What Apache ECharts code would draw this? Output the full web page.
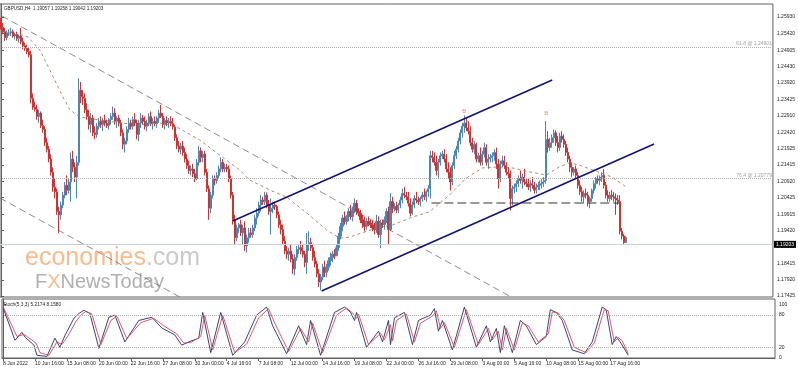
<!DOCTYPE html>
<html><head><meta charset="utf-8">
<script src="https://cdn.jsdelivr.net/npm/echarts@6/dist/echarts.min.js"></script>
<style>html,body{margin:0;padding:0;background:#fff}#c{width:798px;height:372px}</style>
</head><body><div id="c"></div>
<script>
// GBPUSD H4 bars: [open, high, low, close], one per 4h bar starting 8 Jun 2022 00:00
const bars = [
[1.2580,1.2590,1.2555,1.2562],[1.2562,1.2575,1.2540,1.2548],[1.2548,1.2560,1.2520,1.2530],[1.2530,1.2552,1.2522,1.2545],[1.2545,1.2555,1.2535,1.2545],[1.2545,1.2560,1.2535,1.2548],
[1.2548,1.2555,1.2530,1.2535],[1.2535,1.2545,1.2525,1.2540],[1.2540,1.2548,1.2520,1.2528],[1.2528,1.2540,1.2515,1.2535],[1.2535,1.2560,1.2510,1.2518],[1.2518,1.2530,1.2495,1.2505],
[1.2505,1.2515,1.2490,1.2498],[1.2498,1.2508,1.2480,1.2488],[1.2488,1.2500,1.2470,1.2478],[1.2478,1.2490,1.2330,1.2345],[1.2345,1.2360,1.2310,1.2318],[1.2318,1.2335,1.2305,1.2312],
[1.2312,1.2325,1.2280,1.2290],[1.2290,1.2310,1.2270,1.2300],[1.2300,1.2305,1.2255,1.2262],[1.2262,1.2280,1.2240,1.2250],[1.2250,1.2260,1.2200,1.2210],[1.2210,1.2225,1.2180,1.2190],
[1.2190,1.2200,1.2150,1.2160],[1.2160,1.2175,1.2110,1.2120],[1.2120,1.2135,1.2060,1.2075],[1.2075,1.2100,1.2040,1.2060],[1.2060,1.2070,1.1990,1.2000],[1.2000,1.2015,1.1934,1.1990],
[1.1990,1.2030,1.1975,1.2020],[1.2020,1.2060,1.2010,1.2050],[1.2050,1.2090,1.2040,1.2080],[1.2080,1.2110,1.2050,1.2065],[1.2065,1.2100,1.2055,1.2090],[1.2090,1.2180,1.2030,1.2160],
[1.2160,1.2185,1.2120,1.2135],[1.2135,1.2150,1.2090,1.2105],[1.2105,1.2170,1.2040,1.2150],[1.2150,1.2406,1.2140,1.2370],[1.2370,1.2395,1.2330,1.2350],[1.2350,1.2370,1.2325,1.2345],
[1.2345,1.2360,1.2300,1.2310],[1.2310,1.2330,1.2280,1.2290],[1.2290,1.2310,1.2250,1.2265],[1.2265,1.2300,1.2240,1.2285],[1.2285,1.2295,1.2230,1.2240],[1.2240,1.2260,1.2220,1.2235],
[1.2235,1.2270,1.2225,1.2260],[1.2260,1.2285,1.2250,1.2275],[1.2275,1.2290,1.2255,1.2265],[1.2265,1.2285,1.2245,1.2278],[1.2278,1.2295,1.2260,1.2270],[1.2270,1.2280,1.2255,1.2262],
[1.2262,1.2285,1.2250,1.2280],[1.2280,1.2300,1.2265,1.2290],[1.2290,1.2320,1.2280,1.2300],[1.2300,1.2315,1.2265,1.2275],[1.2275,1.2290,1.2255,1.2285],[1.2285,1.2295,1.2260,1.2270],
[1.2270,1.2280,1.2230,1.2240],[1.2240,1.2250,1.2190,1.2205],[1.2205,1.2225,1.2180,1.2215],[1.2215,1.2260,1.2205,1.2250],[1.2250,1.2285,1.2240,1.2270],[1.2270,1.2280,1.2250,1.2260],
[1.2260,1.2290,1.2250,1.2280],[1.2280,1.2300,1.2260,1.2270],[1.2270,1.2280,1.2220,1.2235],[1.2235,1.2280,1.2215,1.2270],[1.2270,1.2300,1.2255,1.2285],[1.2285,1.2295,1.2265,1.2275],
[1.2275,1.2290,1.2250,1.2260],[1.2260,1.2280,1.2245,1.2270],[1.2270,1.2300,1.2260,1.2290],[1.2290,1.2305,1.2260,1.2268],[1.2268,1.2285,1.2250,1.2275],[1.2275,1.2290,1.2260,1.2268],
[1.2268,1.2290,1.2255,1.2285],[1.2285,1.2310,1.2270,1.2300],[1.2300,1.2325,1.2285,1.2290],[1.2290,1.2300,1.2255,1.2265],[1.2265,1.2285,1.2250,1.2278],[1.2278,1.2290,1.2260,1.2270],
[1.2270,1.2285,1.2255,1.2275],[1.2275,1.2290,1.2260,1.2268],[1.2268,1.2285,1.2250,1.2258],[1.2258,1.2265,1.2215,1.2225],[1.2225,1.2235,1.2190,1.2200],[1.2200,1.2215,1.2180,1.2190],
[1.2190,1.2210,1.2175,1.2200],[1.2200,1.2215,1.2170,1.2180],[1.2180,1.2195,1.2150,1.2160],[1.2160,1.2175,1.2130,1.2140],[1.2140,1.2155,1.2115,1.2125],[1.2125,1.2140,1.2110,1.2130],
[1.2130,1.2145,1.2105,1.2115],[1.2115,1.2130,1.2090,1.2100],[1.2100,1.2160,1.2095,1.2150],[1.2150,1.2200,1.2140,1.2185],[1.2185,1.2195,1.2150,1.2165],[1.2165,1.2185,1.2150,1.2175],
[1.2175,1.2185,1.2110,1.2120],[1.2120,1.2130,1.2060,1.2070],[1.2070,1.2080,1.1975,1.2010],[1.2010,1.2060,1.1995,1.2050],[1.2050,1.2110,1.2040,1.2100],[1.2100,1.2110,1.2080,1.2095],
[1.2095,1.2120,1.2085,1.2110],[1.2110,1.2140,1.2100,1.2130],[1.2130,1.2165,1.2120,1.2150],[1.2150,1.2160,1.2120,1.2130],[1.2130,1.2145,1.2120,1.2135],[1.2135,1.2145,1.2120,1.2130],
[1.2130,1.2140,1.2090,1.2100],[1.2100,1.2110,1.2040,1.2050],[1.2050,1.2060,1.1960,1.1975],[1.1975,1.1990,1.1900,1.1920],[1.1920,1.1960,1.1910,1.1950],[1.1950,1.1965,1.1935,1.1960],
[1.1960,1.1975,1.1925,1.1935],[1.1935,1.1960,1.1900,1.1950],[1.1950,1.1970,1.1880,1.1895],[1.1895,1.1930,1.1875,1.1920],[1.1920,1.1950,1.1905,1.1935],[1.1935,1.1950,1.1920,1.1930],
[1.1930,1.1960,1.1920,1.1950],[1.1950,1.1990,1.1940,1.1980],[1.1980,1.2010,1.1960,1.1995],[1.1995,1.2030,1.1985,1.2020],[1.2020,1.2050,1.2000,1.2035],[1.2035,1.2045,1.2020,1.2030],
[1.2030,1.2060,1.2020,1.2050],[1.2050,1.2058,1.2010,1.2020],[1.2020,1.2035,1.1990,1.2000],[1.2000,1.2040,1.1930,1.2010],[1.2010,1.2030,1.1995,1.2020],[1.2020,1.2030,1.2005,1.2015],
[1.2015,1.2020,1.1980,1.1990],[1.1990,1.2000,1.1950,1.1960],[1.1960,1.1975,1.1930,1.1945],[1.1945,1.1960,1.1900,1.1910],[1.1910,1.1925,1.1870,1.1880],[1.1880,1.1895,1.1855,1.1870],
[1.1870,1.1890,1.1850,1.1880],[1.1880,1.1900,1.1845,1.1855],[1.1855,1.1870,1.1810,1.1825],[1.1825,1.1870,1.1806,1.1860],[1.1860,1.1895,1.1850,1.1885],[1.1885,1.1900,1.1870,1.1890],
[1.1890,1.1910,1.1870,1.1880],[1.1880,1.1900,1.1860,1.1870],[1.1870,1.1880,1.1830,1.1845],[1.1845,1.1935,1.1810,1.1900],[1.1900,1.1940,1.1880,1.1905],[1.1905,1.1920,1.1880,1.1890],
[1.1890,1.1900,1.1850,1.1860],[1.1860,1.1880,1.1830,1.1840],[1.1840,1.1850,1.1800,1.1810],[1.1810,1.1825,1.1770,1.1785],[1.1785,1.1810,1.1760,1.1800],[1.1800,1.1840,1.1790,1.1830],
[1.1830,1.1850,1.1800,1.1815],[1.1815,1.1840,1.1800,1.1830],[1.1830,1.1860,1.1820,1.1850],[1.1850,1.1875,1.1835,1.1860],[1.1860,1.1880,1.1845,1.1870],[1.1870,1.1885,1.1855,1.1865],
[1.1865,1.1900,1.1865,1.1890],[1.1890,1.1935,1.1880,1.1925],[1.1925,1.1965,1.1915,1.1955],[1.1955,1.1990,1.1940,1.1980],[1.1980,1.2000,1.1960,1.1970],[1.1970,1.1990,1.1960,1.1985],
[1.1985,1.2010,1.1970,1.2000],[1.2000,1.2020,1.1975,1.1985],[1.1985,1.2015,1.1970,1.2005],[1.2005,1.2040,1.1995,1.2025],[1.2025,1.2035,1.1990,1.2000],[1.2000,1.2010,1.1985,1.1995],
[1.1995,1.2005,1.1965,1.1975],[1.1975,1.1990,1.1950,1.1965],[1.1965,1.1985,1.1940,1.1955],[1.1955,1.1980,1.1945,1.1970],[1.1970,1.1985,1.1955,1.1965],[1.1965,1.1975,1.1950,1.1960],
[1.1960,1.1975,1.1940,1.1950],[1.1950,1.1965,1.1930,1.1945],[1.1945,1.1990,1.1935,1.1970],[1.1970,1.1985,1.1920,1.1930],[1.1930,1.1975,1.1888,1.1965],[1.1965,1.1975,1.1950,1.1960],
[1.1960,1.1985,1.1945,1.1975],[1.1975,1.2010,1.1965,1.2000],[1.2000,1.2015,1.1900,1.1945],[1.1945,1.2056,1.1940,1.2030],[1.2030,1.2045,1.1995,1.2010],[1.2010,1.2025,1.2000,1.2015],
[1.2015,1.2030,1.1995,1.2005],[1.2005,1.2025,1.1995,1.2020],[1.2020,1.2045,1.2010,1.2035],[1.2035,1.2070,1.2025,1.2055],[1.2055,1.2075,1.2040,1.2050],[1.2050,1.2060,1.2035,1.2045],
[1.2045,1.2060,1.2015,1.2025],[1.2025,1.2040,1.1985,1.1995],[1.1995,1.2030,1.1990,1.2020],[1.2020,1.2050,1.2010,1.2040],[1.2040,1.2060,1.2025,1.2035],[1.2035,1.2045,1.2020,1.2030],
[1.2030,1.2045,1.2015,1.2040],[1.2040,1.2060,1.2030,1.2050],[1.2050,1.2070,1.2035,1.2045],[1.2045,1.2065,1.2030,1.2060],[1.2060,1.2080,1.2045,1.2070],[1.2070,1.2185,1.2040,1.2170],
[1.2170,1.2185,1.2150,1.2165],[1.2165,1.2180,1.2140,1.2150],[1.2150,1.2170,1.2110,1.2125],[1.2125,1.2160,1.2100,1.2150],[1.2150,1.2180,1.2140,1.2170],[1.2170,1.2185,1.2160,1.2175],
[1.2175,1.2190,1.2150,1.2160],[1.2160,1.2175,1.2120,1.2130],[1.2130,1.2150,1.2100,1.2120],[1.2120,1.2135,1.2064,1.2090],[1.2090,1.2150,1.2080,1.2140],[1.2140,1.2185,1.2130,1.2170],
[1.2170,1.2200,1.2160,1.2190],[1.2190,1.2225,1.2180,1.2215],[1.2215,1.2250,1.2205,1.2240],[1.2240,1.2270,1.2225,1.2260],[1.2260,1.2293,1.2240,1.2270],[1.2270,1.2285,1.2245,1.2255],
[1.2255,1.2275,1.2235,1.2245],[1.2245,1.2260,1.2200,1.2210],[1.2210,1.2225,1.2180,1.2190],[1.2190,1.2215,1.2175,1.2205],[1.2205,1.2210,1.2150,1.2160],[1.2160,1.2180,1.2150,1.2170],
[1.2170,1.2195,1.2140,1.2150],[1.2150,1.2185,1.2140,1.2175],[1.2175,1.2210,1.2165,1.2195],[1.2195,1.2205,1.2140,1.2150],[1.2150,1.2175,1.2130,1.2160],[1.2160,1.2175,1.2150,1.2165],
[1.2165,1.2180,1.2150,1.2170],[1.2170,1.2190,1.2155,1.2180],[1.2180,1.2195,1.2130,1.2145],[1.2145,1.2160,1.2070,1.2100],[1.2100,1.2155,1.2090,1.2145],[1.2145,1.2170,1.2135,1.2155],
[1.2155,1.2170,1.2130,1.2140],[1.2140,1.2150,1.2110,1.2120],[1.2120,1.2135,1.2100,1.2115],[1.2115,1.2125,1.2003,1.2040],[1.2040,1.2080,1.2020,1.2070],[1.2070,1.2085,1.2055,1.2075],
[1.2075,1.2095,1.2060,1.2085],[1.2085,1.2110,1.2075,1.2100],[1.2100,1.2125,1.2085,1.2095],[1.2095,1.2115,1.2070,1.2105],[1.2105,1.2130,1.2080,1.2090],[1.2090,1.2100,1.2075,1.2085],
[1.2085,1.2100,1.2065,1.2075],[1.2075,1.2095,1.2060,1.2085],[1.2085,1.2105,1.2070,1.2080],[1.2080,1.2090,1.2055,1.2065],[1.2065,1.2085,1.2055,1.2075],[1.2075,1.2090,1.2065,1.2080],
[1.2080,1.2095,1.2065,1.2085],[1.2085,1.2100,1.2070,1.2090],[1.2090,1.2105,1.2075,1.2095],[1.2095,1.2276,1.2085,1.2220],[1.2220,1.2245,1.2180,1.2195],[1.2195,1.2225,1.2185,1.2210],
[1.2210,1.2235,1.2195,1.2225],[1.2225,1.2250,1.2210,1.2240],[1.2240,1.2248,1.2200,1.2210],[1.2210,1.2230,1.2180,1.2195],[1.2195,1.2240,1.2185,1.2230],[1.2230,1.2245,1.2210,1.2220],
[1.2220,1.2235,1.2195,1.2205],[1.2205,1.2215,1.2170,1.2180],[1.2180,1.2195,1.2150,1.2160],[1.2160,1.2170,1.2120,1.2135],[1.2135,1.2150,1.2105,1.2120],[1.2120,1.2135,1.2110,1.2130],
[1.2130,1.2140,1.2100,1.2110],[1.2110,1.2120,1.2070,1.2080],[1.2080,1.2095,1.2050,1.2060],[1.2060,1.2075,1.2030,1.2045],[1.2045,1.2065,1.2025,1.2055],[1.2055,1.2070,1.2040,1.2050],
[1.2050,1.2060,1.2015,1.2030],[1.2030,1.2045,1.2010,1.2040],[1.2040,1.2070,1.2030,1.2065],[1.2065,1.2095,1.2055,1.2085],[1.2085,1.2105,1.2070,1.2100],[1.2100,1.2110,1.2085,1.2095],
[1.2095,1.2110,1.2080,1.2105],[1.2105,1.2120,1.2090,1.2110],[1.2110,1.2130,1.2070,1.2080],[1.2080,1.2090,1.2040,1.2050],[1.2050,1.2065,1.2030,1.2040],[1.2040,1.2060,1.2030,1.2050],
[1.2050,1.2065,1.2035,1.2045],[1.2045,1.2060,1.2030,1.2040],[1.2040,1.2055,1.1990,1.2035],[1.2035,1.2050,1.2020,1.2030],[1.2030,1.2050,1.1930,1.1940],[1.1940,1.1950,1.1915,1.1925],
[1.1925,1.1932,1.1900,1.19057],[1.19057,1.19258,1.19042,1.19203]
];
const slots = 387;               // bar slots across the visible window (incl. right shift)
const priceTicks = [1.25930,1.25420,1.24905,1.24430,1.23920,1.23425,1.22910,1.22420,1.21925,1.21415,1.20920,1.20425,1.19915,1.19420,1.18925,1.18415,1.17920,1.17425];
const timeTickIdx = [0,16,32,48,64,80,96,112,128,144,160,176,192,208,224,240,256,272,288,304];
const timeTickText = ["8 Jun 2022","10 Jun 16:00","15 Jun 08:00","20 Jun 00:00","22 Jun 16:00","27 Jun 08:00","30 Jun 00:00","4 Jul 16:00","7 Jul 08:00","12 Jul 00:00","14 Jul 16:00","19 Jul 08:00","22 Jul 00:00","26 Jul 16:00","29 Jul 08:00","3 Aug 00:00","5 Aug 16:00","10 Aug 08:00","15 Aug 00:00","17 Aug 16:00"];
// moving average (brown dashed), [bar index, price]
const maLine = [[0.5,1.2544],[4.5,1.2541],[10.5,1.2538],[13.5,1.2532],[19.5,1.2492],[24.5,1.2431],[31,1.2349],[34.5,1.2310],[39.5,1.2288],[49.5,1.2279],[59.5,1.2270],[69.5,1.2264],[79.5,1.2270],[88,1.2258],[99.5,1.2218],[109.5,1.2172],[119.5,1.2127],[124.5,1.2096],[134.5,1.2066],[143,1.2044],[153,1.1996],[163,1.1944],[169.5,1.1919],[174.5,1.1922],[188,1.1950],[196,1.1959],[206,1.1983],[214.5,1.1999],[224.5,1.2050],[233,1.2102],[241,1.2133],[249.5,1.2136],[256,1.2133],[264.5,1.2121],[273,1.2111],[279.5,1.2136],[284.5,1.2148],[289.5,1.2142],[296,1.2127],[306,1.2105],[313,1.2075]];
// trendlines [bar index, price]
const channelUpper = [[116,1.19711],[276,1.24009]];
const channelLower = [[160.5,1.17577],[327,1.22058]];
const downLineA = [[0.5,1.25960],[255.5,1.17395]];
const downLineB = [[-0.5,1.20412],[89.5,1.17395]];
const flatLine = [[215.5,1.20260],[309.5,1.20260]];
const fib618 = 1.24940, fib764 = 1.20790, lastPrice = 1.19203;
const peaks = [[232,1.2304],[273,1.2298]];
// Stochastic (5,3,3): [bar index, value]
const stochK = [[0,94],[6,33],[9.5,48],[11,39],[15.5,24],[17,5],[22,3],[26,37],[28.5,20],[31,42],[35.5,74],[38,83],[40.5,89],[43.5,83],[48,18],[53,76],[56,80],[61,30],[68,70],[74.5,76],[79.5,56],[86,43],[89.5,24],[93,30],[98,37],[100,85],[104,10],[109,85],[115,5],[121,30],[127,80],[132,95],[135,60],[142,8],[148,60],[152,25],[154,70],[159,5],[166,85],[171,95],[174,85],[176,70],[177,85],[182,20],[188,50],[190,30],[193,70],[194,25],[196,75],[201,85],[205,25],[208,70],[214,80],[216,92],[218,50],[220,70],[225,15],[231,95],[237,20],[242,60],[244,30],[247,55],[249,10],[251,60],[255,10],[259,70],[262,60],[267,25],[272,40],[274,90],[277,85],[280,70],[285,15],[291,8],[295,30],[300,95],[302,90],[305,25],[307,40],[309,30],[313,5.2174]];
const stochD = [[0,96],[7,40],[10.5,44],[12,40],[16.5,28],[18.5,10],[23,5],[27,30],[29.5,25],[32,38],[36.5,68],[39,80],[41.5,87],[44.5,82],[49,25],[54,70],[57,78],[62,36],[69,66],[75.5,74],[80.5,60],[87,45],[90.5,28],[94,29],[99,40],[101,80],[105,15],[110,80],[116,10],[122,26],[128,75],[133,92],[136,65],[143,12],[149,55],[153,30],[155,65],[160,10],[167,80],[172,93],[175,84],[177,74],[178,82],[183,25],[189,46],[191,34],[194,62],[195,32],[197,70],[202,82],[206,30],[209,65],[215,78],[217,88],[219,55],[221,66],[226,20],[232,90],[238,25],[243,55],[245,34],[248,50],[250,15],[252,55],[256,15],[260,65],[263,60],[268,30],[273,45],[275,86],[278,84],[281,70],[286,20],[292,10],[296,28],[301,90],[303,88],[306,30],[308,38],[310,32],[313,8.1580]];

const cats = [];
for (let i = 0; i < slots; i++) cats.push(String(i));
const ohlc = bars.map(b => [b[0], b[3], b[2], b[1]]);
const fnt = "'Liberation Sans', Arial, sans-serif";
const chart = echarts.init(document.getElementById('c'), null, {renderer: 'canvas'});
const lineS = (data, color, width, type, extra) => Object.assign({
  type: 'line', xAxisIndex: 1, yAxisIndex: 0, data, symbol: 'none', silent: true,
  lineStyle: {color, width, type}, z: 5, animation: false
}, extra || {});
chart.setOption({
  animation: false,
  backgroundColor: '#ffffff',
  grid: [
    {left: 0, top: 4, width: 775, height: 293, show: true, borderColor: '#606060', borderWidth: 1},
    {left: 0, top: 299, width: 775, height: 59, show: true, borderColor: '#606060', borderWidth: 1}
  ],
  xAxis: [
    {type: 'category', gridIndex: 0, data: cats, boundaryGap: true, axisLine: {show: false}, axisTick: {show: false}, axisLabel: {show: false}, splitLine: {show: false}},
    {type: 'value', gridIndex: 0, min: -0.5, max: slots - 0.5, show: false},
    {type: 'value', gridIndex: 1, min: -0.5, max: slots - 0.5,
      axisLine: {show: true, lineStyle: {color: '#606060'}},
      axisTick: {show: true, customValues: timeTickIdx, length: 3, lineStyle: {color: '#606060'}},
      axisLabel: {customValues: timeTickIdx, align: 'left', margin: 3, fontSize: 5, fontFamily: fnt, color: '#222',
        formatter: v => timeTickText[timeTickIdx.indexOf(Math.round(v))] || ''},
      splitLine: {show: false}}
  ],
  yAxis: [
    {type: 'value', gridIndex: 0, position: 'right', min: 1.17395, max: 1.26326, scale: true,
      axisLine: {show: true, lineStyle: {color: '#606060'}},
      axisTick: {show: true, customValues: priceTicks, length: 3, inside: false, lineStyle: {color: '#606060'}},
      axisLabel: {customValues: priceTicks, fontSize: 5, fontFamily: fnt, color: '#222', margin: 4, formatter: v => v.toFixed(5)},
      splitLine: {show: false}},
    {type: 'value', gridIndex: 1, position: 'right', min: 0, max: 110,
      axisLine: {show: true, lineStyle: {color: '#606060'}},
      axisTick: {show: true, customValues: [0, 20, 80, 100], length: 3, lineStyle: {color: '#606060'}},
      axisLabel: {customValues: [0, 20, 80, 100], fontSize: 5, fontFamily: fnt, color: '#222', margin: 4},
      splitLine: {show: false}}
  ],
  graphic: [
    {type: 'text', left: 4, top: 6, style: {text: 'GBPUSD,H4  1.19057 1.19258 1.19042 1.19203', font: "4.6px 'Liberation Sans', Arial", fill: '#222'}, z: 20},
    {type: 'text', left: 3, top: 302, style: {text: 'Stoch(5,3,3) 5.2174 8.1580', font: "4.8px 'Liberation Sans', Arial", fill: '#222'}, z: 20},
    {type: 'text', left: 25, top: 246, z: 1, style: {
      text: '{a|economies}{b|.com}',
      rich: {a: {fontSize: 25, fontFamily: fnt, fill: '#f5bd8e'}, b: {fontSize: 25, fontFamily: fnt, fill: '#cacaca'}}}},
    {type: 'text', left: 35, top: 272, z: 1, style: {
      text: '{a|F}{b|X}{a|NewsToday}',
      rich: {a: {fontSize: 20, fontFamily: fnt, fill: '#b0b0b0'}, b: {fontSize: 20, fontFamily: fnt, fill: '#f5bd8e'}}}}
  ],
  series: [
    {type: 'candlestick', xAxisIndex: 0, yAxisIndex: 0, data: ohlc, barWidth: 1.6, z: 3,
      large: false, progressive: 0, emphasis: {disabled: true},
      itemStyle: {color: '#4d86b2', color0: '#cc3333', borderColor: '#4d86b2', borderColor0: '#cc3333', borderColorDoji: '#4d86b2', borderWidth: 1},
      markLine: {symbol: 'none', silent: true, animation: false, data: [
        {yAxis: fib618, lineStyle: {color: '#b0b0b0', type: 'dotted', width: 1},
          label: {show: true, position: 'insideEndTop', formatter: '61.8 @ 1.24901', fontSize: 5, fontFamily: fnt, color: '#a0a0a0', distance: 1}},
        {yAxis: fib764, lineStyle: {color: '#b0b0b0', type: 'dotted', width: 1},
          label: {show: true, position: 'insideEndTop', formatter: '76.4 @ 1.20779', fontSize: 5, fontFamily: fnt, color: '#a0a0a0', distance: 1}},
        {yAxis: lastPrice, lineStyle: {color: '#c6d4e2', type: 'solid', width: 1},
          label: {show: true, position: 'end', formatter: '1.19203', fontSize: 5, fontFamily: fnt, color: '#fff', backgroundColor: '#000', padding: [1, 2, 1, 2], distance: 1}}
      ]}},
    lineS(maLine, '#9c6a4e', 0.8, [3, 3]),
    lineS(downLineA, '#707070', 0.8, [7, 4]),
    lineS(downLineB, '#707070', 0.8, [7, 4]),
    lineS(flatLine, '#333333', 1, [9, 4]),
    lineS(channelUpper, '#14146e', 1.6, 'solid'),
    lineS(channelLower, '#14146e', 1.6, 'solid'),
    {type: 'scatter', xAxisIndex: 1, yAxisIndex: 0, data: peaks, symbolSize: 0, silent: true, z: 6,
      label: {show: true, formatter: 'B', position: 'inside', fontSize: 6, fontFamily: fnt, color: '#e0704a'}},
    {type: 'line', xAxisIndex: 2, yAxisIndex: 1, data: stochK, symbol: 'none', silent: true,
      lineStyle: {color: '#2b2b5e', width: 0.9},
      markLine: {symbol: 'none', silent: true, label: {show: false}, lineStyle: {color: '#b0b0b0', type: 'dotted', width: 1},
        data: [{yAxis: 80}, {yAxis: 20}]}},
    {type: 'line', xAxisIndex: 2, yAxisIndex: 1, data: stochD, symbol: 'none', silent: true,
      lineStyle: {color: '#d04a5a', width: 0.9}}
  ]
});
</script></body></html>
